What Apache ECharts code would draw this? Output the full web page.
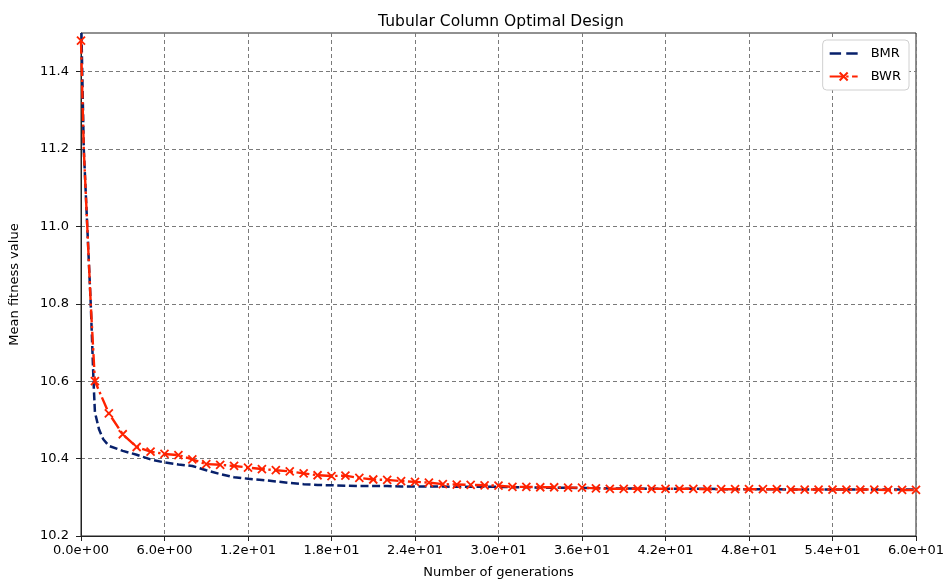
<!DOCTYPE html>
<html>
<head>
<meta charset="utf-8">
<script src="https://cdn.jsdelivr.net/npm/echarts@6/dist/echarts.min.js"></script>
<style>
html,body{margin:0;padding:0;background:#fff;}
#chart{width:952px;height:587px;}
</style>
</head>
<body>
<div id="chart"></div>
<script>
// ---- data ----
const titleText = 'Tubular Column Optimal Design';
const xName = 'Number of generations';
const yName = 'Mean fitness value';
const seriesNames = ['BMR', 'BWR'];

const xTicks = [0, 6, 12, 18, 24, 30, 36, 42, 48, 54, 60];
const yTicks = [10.2, 10.4, 10.6, 10.8, 11.0, 11.2, 11.4];

const bmrX = [0, 0.2, 0.45, 0.7, 0.9, 1, 1.3, 1.6, 2, 3, 4, 5, 6, 7, 8, 9, 10,
  11, 12, 13, 14, 15, 16, 17, 18, 19, 20, 21, 22, 23, 24, 25, 26, 27, 28, 29, 30,
  31, 32, 33, 34, 35, 36, 37, 38, 39, 40, 41, 42, 43, 44, 45, 46, 47, 48, 49, 50,
  51, 52, 53, 54, 55, 56, 57, 58, 59, 60];
const bmrY = [11.56, 11.2, 11.0, 10.8, 10.6, 10.52, 10.475, 10.45, 10.433, 10.42, 10.41, 10.398, 10.39, 10.385, 10.381, 10.37, 10.36,
  10.352, 10.348, 10.345, 10.341, 10.337, 10.334, 10.332, 10.331, 10.330, 10.329, 10.329, 10.329, 10.328, 10.328, 10.328, 10.328, 10.327, 10.327, 10.327, 10.327,
  10.326, 10.326, 10.325, 10.325, 10.325, 10.324, 10.324, 10.323, 10.323, 10.323, 10.322, 10.322, 10.322, 10.322, 10.322, 10.321, 10.321, 10.321, 10.321, 10.321,
  10.320, 10.320, 10.320, 10.320, 10.320, 10.320, 10.320, 10.320, 10.320, 10.320];

const bwrX = [0, 0.2, 0.45, 0.7, 1, 2, 3, 4, 5, 6, 7, 8, 9, 10,
  11, 12, 13, 14, 15, 16, 17, 18, 19, 20, 21, 22, 23, 24, 25, 26, 27, 28, 29, 30,
  31, 32, 33, 34, 35, 36, 37, 38, 39, 40, 41, 42, 43, 44, 45, 46, 47, 48, 49, 50,
  51, 52, 53, 54, 55, 56, 57, 58, 59, 60];
const bwrY = [11.48, 11.2, 11.0, 10.8, 10.6, 10.517, 10.463, 10.43, 10.418, 10.412, 10.409, 10.398, 10.386, 10.384,
  10.381, 10.377, 10.373, 10.370, 10.367, 10.362, 10.357, 10.355, 10.356, 10.350, 10.346, 10.345, 10.342, 10.340, 10.338, 10.334, 10.333, 10.332, 10.331, 10.330,
  10.327, 10.327, 10.326, 10.326, 10.325, 10.325, 10.323, 10.322, 10.322, 10.322, 10.322, 10.322, 10.322, 10.322, 10.321, 10.321, 10.321, 10.321, 10.321, 10.321,
  10.320, 10.320, 10.320, 10.320, 10.320, 10.320, 10.320, 10.319, 10.319, 10.319];

// ---- build chart ----
const FONT = 'DejaVu Sans';
const xMark = 'path://M0,0L10,10M10,0L0,10';
const dashIcon = 'path://M0,0H11V2.6H0Z M16,0H27V2.6H16Z';

function sciFmt(v) {
  const s = Number(v).toExponential(1);
  const parts = s.split('e');
  const sign = parts[1][0];
  const digits = parts[1].slice(1).padStart(2, '0');
  return parts[0] + 'e' + sign + digits;
}

const bmrData = bmrX.map((x, i) => [x, bmrY[i]]);
const bwrData = bwrX.map((x, i) => Number.isInteger(x) ? [x, bwrY[i]] : { value: [x, bwrY[i]], symbol: 'none' });

const chart = echarts.init(document.getElementById('chart'), null, { renderer: 'canvas' });
chart.setOption({
  animation: false,
  backgroundColor: '#ffffff',
  textStyle: { fontFamily: FONT },
  title: {
    text: titleText,
    left: 496, top: 9,
    textAlign: 'center',
    textStyle: { fontFamily: FONT, fontSize: 15.5, fontWeight: 'normal', color: '#000' }
  },
  legend: {
    right: 43, top: 40,
    orient: 'vertical',
    backgroundColor: '#ffffff',
    borderColor: '#d0d0d0',
    borderWidth: 1,
    borderRadius: 4,
    padding: [7, 8, 7, 6],
    itemWidth: 28,
    itemHeight: 10,
    itemGap: 10,
    textStyle: { fontFamily: FONT, fontSize: 13, color: '#000', padding: [0, 0, 0, 8] },
    data: [{ name: seriesNames[0], icon: dashIcon, itemStyle: { color: '#07206b' } }, { name: seriesNames[1] }]
  },
  grid: {
    left: 77, right: 36, top: 33, bottom: 51,
    show: true,
    borderColor: '#222',
    borderWidth: 1,
    containLabel: false
  },
  xAxis: {
    type: 'value',
    min: 0, max: 60, interval: 6,
    name: xName,
    nameLocation: 'middle',
    nameGap: 30,
    nameTextStyle: { fontFamily: FONT, fontSize: 13, color: '#000' },
    axisLine: { show: true, onZero: false, lineStyle: { color: '#222', width: 1 } },
    axisTick: { show: true, length: 5, lineStyle: { color: '#222' }, customValues: xTicks },
    axisLabel: { margin: 8, fontFamily: FONT, fontSize: 13, color: '#000', formatter: sciFmt, customValues: xTicks },
    splitLine: { show: true, lineStyle: { color: '#7a7a7a', type: [4, 3], width: 1 } }
  },
  yAxis: {
    type: 'value',
    min: 10.2, max: 11.5, interval: 0.2,
    name: yName,
    nameLocation: 'middle',
    nameGap: 60,
    nameTextStyle: { fontFamily: FONT, fontSize: 13, color: '#000' },
    axisLine: { show: true, onZero: false, lineStyle: { color: '#222', width: 1 } },
    axisTick: { show: true, length: 5, lineStyle: { color: '#222' }, customValues: yTicks },
    axisLabel: { margin: 12, fontFamily: FONT, fontSize: 13, color: '#000',
      formatter: v => Number(v).toFixed(1), customValues: yTicks },
    splitLine: { show: true, lineStyle: { color: '#7a7a7a', type: [4, 3], width: 1 } }
  },
  series: [
    {
      name: seriesNames[0],
      type: 'line',
      data: bmrData,
      symbol: 'none',
      showSymbol: false,
      lineStyle: { color: '#07206b', width: 2.5, type: [8, 3.6] },
      itemStyle: { color: '#07206b' },
      z: 2
    },
    {
      name: seriesNames[1],
      type: 'line',
      data: bwrData,
      symbol: xMark,
      symbolSize: 8,
      showSymbol: true,
      showAllSymbol: true,
      lineStyle: { color: '#ff2200', width: 2.4, type: [13, 3.5, 2.4, 3.5] },
      itemStyle: { color: '#ff2200', borderColor: '#ff2200', borderWidth: 1.8 },
      z: 3
    }
  ]
});
</script>
</body>
</html>
